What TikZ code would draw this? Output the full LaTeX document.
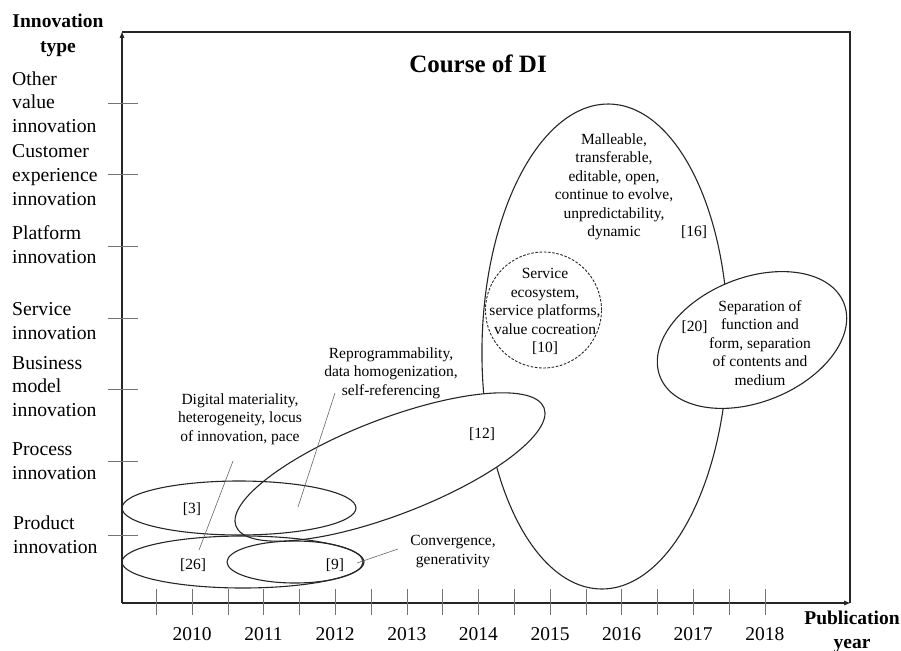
\documentclass[tikz,border=0pt]{standalone}
\usepackage{fontspec}
\setmainfont{Liberation Serif}
\usetikzlibrary{shapes.geometric,arrows.meta}
\begin{document}
\begin{tikzpicture}[x=1pt,y=-1pt,
  ax/.style={line width=1.2pt,black!85},
  tk/.style={line width=0.7pt,black!55},
  ell/.style={draw=black!85,ellipse,line width=1.1pt,inner sep=0pt,outer sep=0pt},
  lead/.style={line width=0.6pt,black!60},
  lab/.style={font=\fontsize{19.7}{23.6}\selectfont,align=left,anchor=base west,inner sep=0pt},
  sm/.style={font=\fontsize{15.5}{18.4}\selectfont,align=center,anchor=base,inner sep=0pt},
  yr/.style={font=\fontsize{19.5}{23.6}\selectfont,anchor=base,inner sep=0pt},
  ttl/.style={font=\bfseries\fontsize{19.5}{24.5}\selectfont,align=center,anchor=base,inner sep=0pt}]
\useasboundingbox (0,0) rectangle (901,650);

% axes and frame
\coordinate (o) at (122,603);
\coordinate (ytop) at (122,32);
\coordinate (xend) at (850,603);
\coordinate (tr) at (850,32);
\draw[ax] (ytop) -- (tr) -- (xend);
\draw[ax,-{Triangle[length=6pt,width=4.5pt]}] (o) -- (ytop);
\draw[ax,-{Triangle[length=6pt,width=4.5pt]}] (o) -- (xend);

% ticks
\foreach \y in {103,174,246,318,389,461,535}{
  \draw[tk] (108,\y) -- (138,\y);
}
\foreach \k in {0,...,17}{
  \draw[tk] ({156.3+35.8*\k},589) -- ({156.3+35.8*\k},615);
}

% year labels
\foreach \yy [count=\j from 0] in {2010,2011,2012,2013,2014,2015,2016,2017,2018}{
  \node[yr] (yr\yy) at ({192+71.6*\j},640) {\yy};
}

% axis titles (base = last line)
\node[ttl] (ytitle) at (58,52.5) {Innovation\\type};
\node[ttl] (xtitle) at (852,648.5) {Publication\\year};
\node[font=\bfseries\fontsize{25}{30}\selectfont,anchor=base,inner sep=0pt] (title) at (478,73) {Course of DI};

% y labels (base = last line)
\node[lab] (l1) at (12,132.5) {Other\\value\\innovation};
\node[lab] (l2) at (12,205) {Customer\\experience\\innovation};
\node[lab] (l3) at (12,263.5) {Platform\\innovation};
\node[lab] (l4) at (12,339.5) {Service\\innovation};
\node[lab] (l5) at (12,416.5) {Business\\model\\innovation};
\node[lab] (l6) at (12,479) {Process\\innovation};
\node[lab] (l7) at (13,553.5) {Product\\innovation};

% ellipses
\node[ell,minimum width=246pt,minimum height=485pt,rotate=-1] (e16) at (605,346.5) {};
\node[ell,fill=white,minimum width=330pt,minimum height=96pt,rotate=21] (e12) at (390,467) {};
\node[ell,fill=white,minimum width=198pt,minimum height=124pt,rotate=22] (e20) at (752,340) {};
\node[draw=black!85,circle,dashed,dash pattern=on 2.6pt off 1.6pt,line width=0.9pt,minimum size=116pt,inner sep=0pt] (e10) at (543.5,310) {};
\node[ell,minimum width=234pt,minimum height=54pt] (e3) at (239,508) {};
\node[ell,minimum width=242pt,minimum height=52pt] (e26) at (243,562) {};
\node[ell,minimum width=136pt,minimum height=42pt] (e9) at (295,562) {};

% labels inside
\node[sm] (r3) at (192,513) {[3]};
\node[sm] (r26) at (193,569) {[26]};
\node[sm] (r9) at (335,569) {[9]};
\node[sm] (r12) at (482,438) {[12]};
\node[sm] (r16) at (694,236) {[16]};
\node[sm] (r20) at (694.5,331) {[20]};

\node[sm] (tdig) at (240,441) {Digital materiality,\\heterogeneity, locus\\of innovation, pace};
\node[sm] (trep) at (391,395) {Reprogrammability,\\data homogenization,\\self-referencing};
\node[sm] (tcon) at (453,564) {Convergence,\\generativity};
\node[sm] (tmal) at (614,236.5) {Malleable,\\transferable,\\editable, open,\\continue to evolve,\\unpredictability,\\dynamic};
\node[sm] (tser) at (545,352.5) {Service\\ecosystem,\\service platforms,\\value cocreation\\{[10]}};
\node[sm] (tsep) at (760,385) {Separation of\\function and\\form, separation\\of contents and\\medium};

% leader lines
\coordinate (a1) at (233,461); \coordinate (b1) at (199,550);
\coordinate (a2) at (335,393); \coordinate (b2) at (298,507);
\coordinate (a3) at (398,549); \coordinate (b3) at (357,563);
\draw[lead] (a1) -- (b1);
\draw[lead] (a2) -- (b2);
\draw[lead] (a3) -- (b3);
\end{tikzpicture}
\end{document}
